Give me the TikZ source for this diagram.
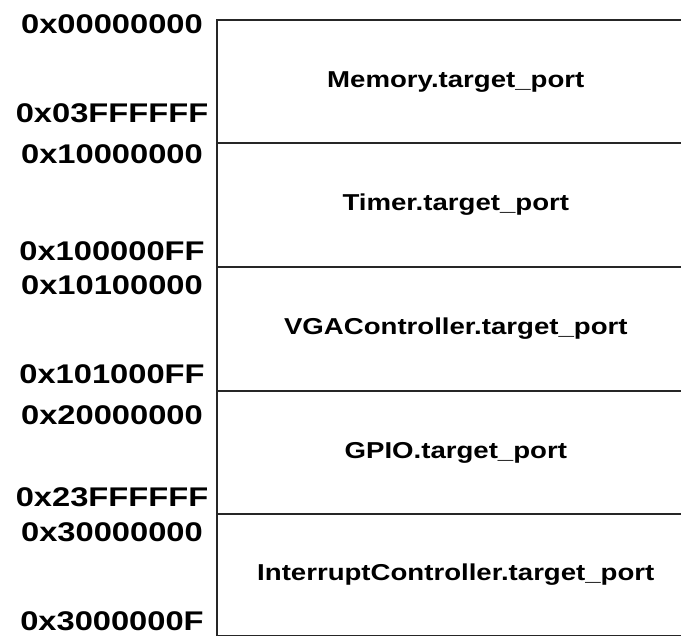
\documentclass[tikz,border=0pt]{standalone}
\usepackage{fontspec}
\setmainfont{Liberation Sans}
\newfontfamily\addrfont[FakeStretch=1.21]{Liberation Sans}
\newfontfamily\regfont[FakeStretch=1.2]{Liberation Sans}
\begin{document}
\begin{tikzpicture}[x=1pt,y=-1pt,
  region/.style={draw=black!85, line width=1.6pt, rectangle, inner sep=0pt,
    anchor=north west, minimum width=478pt,
    font=\regfont\bfseries\fontsize{23}{23}\selectfont, text=black},
  addr/.style={font=\addrfont\bfseries\fontsize{27}{27}\selectfont,
    inner sep=0pt, text=black}]
\useasboundingbox (0,0) rectangle (681,636);
\clip (0,0) rectangle (681,636);
% regions
\node[region, minimum height=123pt]   (mem)  at (216,19.5)  {Memory.target\_port};
\node[region, minimum height=123.5pt] (tim)  at (216,142.5) {Timer.target\_port};
\node[region, minimum height=124pt]   (vga)  at (216,266)   {VGAController.target\_port};
\node[region, minimum height=123.5pt] (gpio) at (216,390)   {GPIO.target\_port};
\node[region, minimum height=121pt]   (irq)  at (216,513.5) {InterruptController.target\_port};
% addresses
\node[addr] (memS)  at (112,24)    {0x00000000};
\node[addr] (memE)  at (112,113)   {0x03FFFFFF};
\node[addr] (timS)  at (112,154.7) {0x10000000};
\node[addr] (timE)  at (112,251)   {0x100000FF};
\node[addr] (vgaS)  at (112,285)   {0x10100000};
\node[addr] (vgaE)  at (112,374)   {0x101000FF};
\node[addr] (gpioS) at (112,415)   {0x20000000};
\node[addr] (gpioE) at (112,497)   {0x23FFFFFF};
\node[addr] (irqS)  at (112,532)   {0x30000000};
\node[addr] (irqE)  at (112,621) {0x3000000F};
\end{tikzpicture}
\end{document}
